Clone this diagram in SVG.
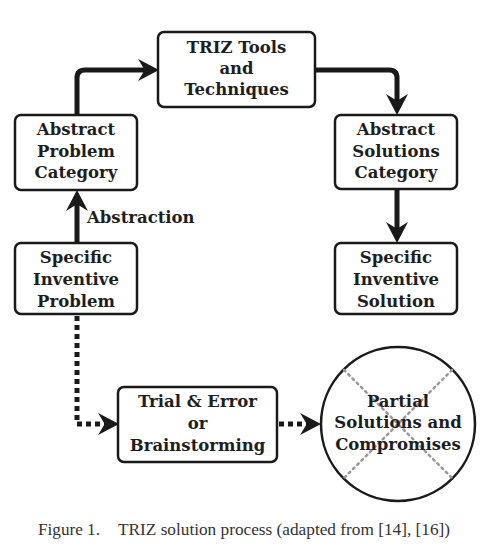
<svg xmlns="http://www.w3.org/2000/svg" width="485" height="550" viewBox="0 0 485 550">
<style>
.box{fill:#fff;stroke:#1a1a1a;stroke-width:2.5}
.t{font-family:"DejaVu Serif","Liberation Serif",serif;font-weight:bold;font-size:16.5px;fill:#1e1e1e;text-anchor:middle}
.solid{fill:none;stroke:#1a1a1a;stroke-width:5;stroke-linejoin:round}
.dot{fill:none;stroke:#1a1a1a;stroke-width:5;stroke-dasharray:5 4}
.x{stroke:#999;stroke-width:2.5;stroke-dasharray:2 4;stroke-linecap:round}
.cap{font-family:"Liberation Serif","DejaVu Serif",serif;font-size:16px;fill:#333}
</style>
<defs>
<marker id="ah" markerUnits="userSpaceOnUse" markerWidth="22" markerHeight="22" viewBox="0 0 19 20" refX="9" refY="10" orient="auto">
<path d="M0,0 L19,10 L0,20 L6,10 z" fill="#1a1a1a"/>
</marker>
</defs>
<rect width="485" height="550" fill="#fff"/>
<g id="connectors">
<path class="solid" d="M77,115 V78 Q77,70 85,70 H148" marker-end="url(#ah)"/>
<path class="solid" d="M315,70 H389 Q397,70 397,78 V104" marker-end="url(#ah)"/>
<path class="solid" d="M397,189 V232" marker-end="url(#ah)"/>
<path class="solid" d="M77,243 V201" marker-end="url(#ah)"/>
<path class="dot" d="M77,316 V424 H108" marker-end="url(#ah)"/>
<path class="dot" d="M279,424 H310" marker-end="url(#ah)"/>
<text x="87" y="223" class="t" style="text-anchor:start">Abstraction</text>
</g>
<g id="triz">
<rect class="box" x="158" y="32" width="157" height="75" rx="6"/>
<text class="t" x="236.5" y="53">TRIZ Tools</text>
<text class="t" x="236.5" y="74">and</text>
<text class="t" x="236.5" y="95">Techniques</text>
</g>
<g id="abstract-problem">
<rect class="box" x="15" y="115" width="122" height="75" rx="6"/>
<text class="t" x="76" y="135">Abstract</text>
<text class="t" x="76" y="157">Problem</text>
<text class="t" x="76" y="178">Category</text>
</g>
<g id="abstract-solutions">
<rect class="box" x="335" y="115" width="122" height="74" rx="6"/>
<text class="t" x="396" y="135">Abstract</text>
<text class="t" x="396" y="157">Solutions</text>
<text class="t" x="396" y="178">Category</text>
</g>
<g id="specific-problem">
<rect class="box" x="15" y="243" width="122" height="71" rx="6"/>
<text class="t" x="76" y="263">Specific</text>
<text class="t" x="76" y="285">Inventive</text>
<text class="t" x="76" y="307">Problem</text>
</g>
<g id="specific-solution">
<rect class="box" x="335" y="243" width="122" height="71" rx="6"/>
<text class="t" x="396" y="263">Specific</text>
<text class="t" x="396" y="285">Inventive</text>
<text class="t" x="396" y="307">Solution</text>
</g>
<g id="trial">
<rect class="box" x="118" y="387" width="159" height="75" rx="6"/>
<text class="t" x="197.5" y="407">Trial &amp; Error</text>
<text class="t" x="197.5" y="429">or</text>
<text class="t" x="197.5" y="451">Brainstorming</text>
</g>
<g id="partial">
<circle cx="398" cy="424" r="77" fill="#fff" stroke="#1a1a1a" stroke-width="2.5"/>
<line class="x" x1="344" y1="370" x2="452" y2="478"/>
<line class="x" x1="452" y1="370" x2="344" y2="478"/>
<text class="t" x="398" y="407">Partial</text>
<text class="t" x="398" y="428">Solutions and</text>
<text class="t" x="398" y="450">Compromises</text>
</g>
<g id="caption">
<text class="cap" x="38" y="535" textLength="62" lengthAdjust="spacingAndGlyphs">Figure 1.</text>
<text class="cap" x="118" y="535" textLength="332" lengthAdjust="spacingAndGlyphs">TRIZ solution process (adapted from [14], [16])</text>
</g>
</svg>
